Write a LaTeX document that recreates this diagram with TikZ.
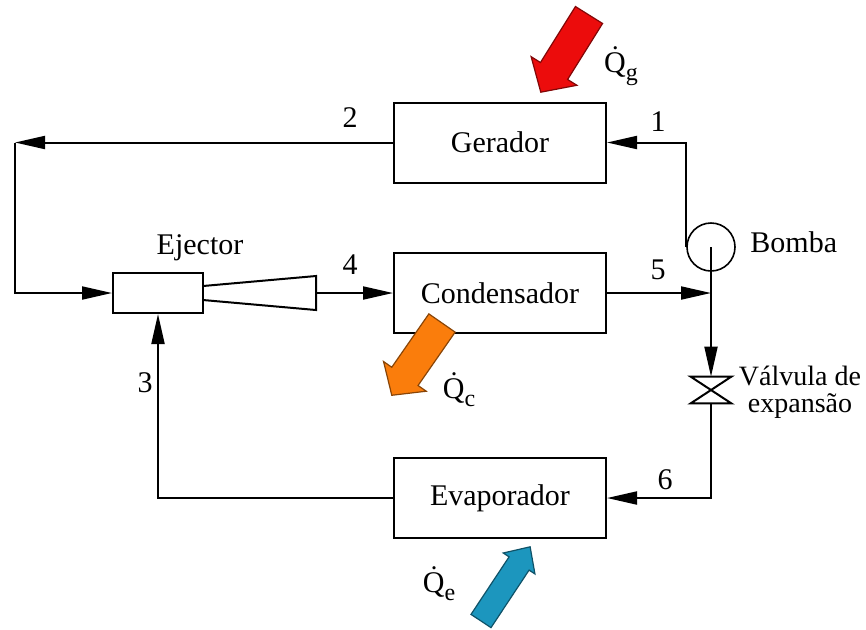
\documentclass[tikz,border=0pt]{standalone}
\usepackage{fontspec}
\setmainfont{Liberation Serif}
\newfontfamily\diagfont{Liberation Serif}
\usetikzlibrary{arrows.meta,positioning}
\definecolor{heatred}{RGB}{236,12,12}
\definecolor{heatorange}{RGB}{250,125,12}
\definecolor{heatblue}{RGB}{28,150,190}
\tikzset{unit/.style={rectangle,draw,line width=1pt,minimum width=106pt,
minimum height=40pt,font=\diagfont\fontsize{15}{17}\selectfont},
num/.style={inner sep=1pt,font=\diagfont\fontsize{15}{17}\selectfont},
pipe/.style={line width=1pt},
flow/.style={pipe,->},
>={Triangle[length=15pt,width=6.5pt]}}
% heat arrow: colour, tail, angle, length, shaft half width, head half width, head length
\newcommand{\heatarrow}[7]{%
  \begin{scope}[shift={#2},rotate=#3]
    \filldraw[fill=#1,draw=#1!55!black,line width=0.6pt]
      (0,-#5) -- ({#4-#7},-#5) -- ({#4-#7},-#6) -- (#4,0)
      -- ({#4-#7},#6) -- ({#4-#7},#5) -- (0,#5) -- cycle;
  \end{scope}}
\newcommand{\heatlbl}[1]{\.{Q}\raisebox{-4pt}{\fontsize{12}{12}\selectfont #1}}

\begin{document}
\begin{tikzpicture}[x=0.5pt,y=-0.5pt]
  \useasboundingbox (0,0) rectangle (866,629);

  \node (gerador) [unit] at (500,142.5) {Gerador};
  \node (condensador) [unit] at (500,293) {Condensador};
  \node (evaporador) [unit] at (500,498) {Evaporador};
  \node (ejector) [rectangle,draw,line width=1pt,minimum width=45pt,minimum height=20pt] at (158,293) {};
  \node (pump) [circle,draw,line width=0.8pt,minimum size=24pt,inner sep=0pt] at (711,247) {};
  \node (valve) [rectangle,inner sep=0pt,minimum width=20pt,minimum height=13pt] at (711,390) {};

  % diffuser of the ejector
  \draw [pipe] (203,286) -- (316,276) -- (316,310) -- (203,300);
  \coordinate (difout) at (316,293);
  \coordinate (bend) at (15,142.5);

  % expansion valve
  \draw [pipe] (valve.north west) -- (valve.north east) -- (valve.south west)
    -- (valve.south east) -- cycle;

  \draw [flow] (gerador.west) -- (bend);
  \draw [flow] (bend) |- (ejector.west);
  \draw [flow] (difout) -- (condensador.west);
  \draw [flow] (condensador.east) -- (condensador.east -| pump.center);
  \draw [flow] (pump.west) |- (gerador.east);
  \draw [flow] (pump.center) -- (valve.north);
  \draw [flow] (valve.south) |- (evaporador.east);
  \draw [flow] (evaporador.west) -| (ejector.south);

  \node (n1) [num] at (658,122) {1};
  \node (n2) [num] at (350,118) {2};
  \node (n3) [num] at (145,383) {3};
  \node (n4) [num] at (350,265) {4};
  \node (n5) [num] at (658,270) {5};
  \node (n6) [num] at (665,480) {6};
  \node (ejectorlbl) [num] at (200,248) {Ejector};
  \node (bomba) [num,anchor=west] at (748,242) {Bomba};
  \node (valvelbl) [num,align=center,font=\diagfont\fontsize{14}{13.5}\selectfont] at (800,392) {Válvula de\\expansão};

  \heatarrow{heatred}{(589,15)}{238}{91}{16}{27}{25}
  \heatarrow{heatorange}{(442,323)}{235.2}{88}{16}{26}{23}
  \heatarrow{heatblue}{(481,621)}{56.5}{89}{12}{19}{20}

  \node (qg) [num] at (621,66) {\heatlbl{g}};
  \node (qc) [num] at (459,390) {\heatlbl{c}};
  \node (qe) [num] at (439,584) {\heatlbl{e}};
\end{tikzpicture}
\end{document}
